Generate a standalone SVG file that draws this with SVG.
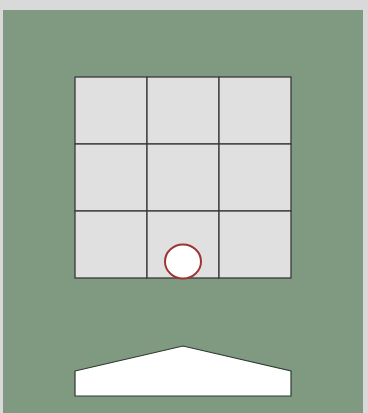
<svg xmlns="http://www.w3.org/2000/svg" width="368" height="413" viewBox="0 0 368 413">
<style>
.cell{fill:#e0e0e0;stroke:#3a3a3a;stroke-width:1.3}
</style>
<rect x="0" y="0" width="368" height="413" fill="#d9d9d9"/>
<rect x="3" y="10" width="360" height="403" fill="#809a82"/>
<g id="grid">
<rect class="cell" x="75" y="77" width="72" height="67"/>
<rect class="cell" x="147" y="77" width="72" height="67"/>
<rect class="cell" x="219" y="77" width="72" height="67"/>
<rect class="cell" x="75" y="144" width="72" height="67"/>
<rect class="cell" x="147" y="144" width="72" height="67"/>
<rect class="cell" x="219" y="144" width="72" height="67"/>
<rect class="cell" x="75" y="211" width="72" height="67"/>
<rect class="cell" x="147" y="211" width="72" height="67"/>
<rect class="cell" x="219" y="211" width="72" height="67"/>
</g>
<g id="ball">
<ellipse cx="183" cy="261.5" rx="18" ry="17" fill="#ffffff" stroke="#9e3535" stroke-width="2"/>
</g>
<g id="paddle">
<polygon points="75,371 183,346 291,371 291,396 75,396" fill="#ffffff" stroke="#2e3a2e" stroke-width="1.2"/>
</g>
</svg>
